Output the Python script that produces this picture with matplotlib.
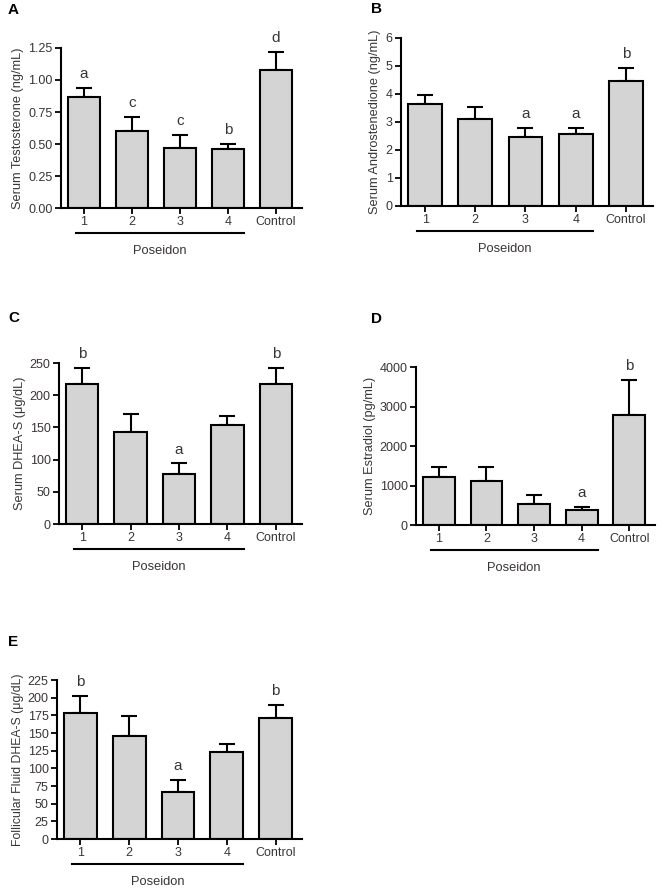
import numpy as np
import matplotlib
matplotlib.use("Agg")
import matplotlib.pyplot as plt
import matplotlib.transforms as mtransforms

groups = ["1", "2", "3", "4", "Control"]

testo_mean = [0.87, 0.60, 0.47, 0.46, 1.08]
testo_top = [0.94, 0.71, 0.57, 0.50, 1.22]
testo_letters = ["a", "c", "c", "b", "d"]

andro_mean = [3.65, 3.10, 2.47, 2.57, 4.45]
andro_top = [3.97, 3.55, 2.80, 2.80, 4.93]
andro_letters = ["", "", "a", "a", "b"]

dhea_mean = [218, 143, 77, 153, 218]
dhea_top = [242, 171, 94, 168, 242]
dhea_letters = ["b", "", "a", "", "b"]

estra_mean = [1220, 1120, 530, 390, 2780]
estra_top = [1460, 1460, 750, 460, 3660]
estra_letters = ["", "", "", "a", "b"]

ff_mean = [178, 146, 66, 123, 171]
ff_top = [202, 174, 83, 135, 189]
ff_letters = ["b", "", "a", "", "b"]

txt = "#3a3535"
plt.rcParams['font.family'] = ['Liberation Sans', 'DejaVu Sans']

fig = plt.figure(figsize=(6.65, 8.96), dpi=100)


def panel(rect, mean, top, letters, ylabel, yticks, ticklabels, tag, tagpos, ylsize=9.2):
    ax = fig.add_axes(rect)
    x = np.arange(len(groups))
    ax.bar(x, mean, width=0.67, color="#d4d4d4", edgecolor="black", linewidth=1.5, zorder=2)
    err = np.array(top) - np.array(mean)
    ax.errorbar(x, mean, yerr=[np.zeros(len(x)), err], fmt="none", ecolor="black",
                elinewidth=1.5, capsize=5.5, capthick=1.5, zorder=1)
    for i, l in enumerate(letters):
        if l:
            ax.annotate(l, (x[i], top[i]), xytext=(0, 5), textcoords="offset points",
                        ha="center", va="bottom", fontsize=11, color=txt)
    ax.set_xlim(-0.48, 4.54)
    ax.set_ylim(0, yticks[-1])
    ax.set_yticks(yticks)
    ax.set_yticklabels(ticklabels)
    ax.set_xticks(x)
    ax.set_xticklabels(groups)
    ax.spines["top"].set_visible(False)
    ax.spines["right"].set_visible(False)
    ax.spines["left"].set_linewidth(1.5)
    ax.spines["bottom"].set_linewidth(1.5)
    ax.tick_params(direction="out", length=4, width=1.3, labelsize=9, colors=txt, pad=2)
    ax.tick_params(color="black")
    ax.set_ylabel(ylabel, fontsize=ylsize, color=txt, labelpad=3)
    # Poseidon bracket under bars 1-4
    tr = mtransforms.blended_transform_factory(ax.transData, ax.transAxes)
    off = mtransforms.ScaledTranslation(0, -25 / 100, fig.dpi_scale_trans)
    ax.plot([-0.17, 3.34], [0, 0], color="black", lw=1.5, clip_on=False, transform=tr + off)
    off2 = mtransforms.ScaledTranslation(0, -43 / 100, fig.dpi_scale_trans)
    ax.text(1.58, 0, "Poseidon", ha="center", va="center", fontsize=9.3, color=txt,
            transform=tr + off2)
    fig.text(tagpos[0] / 665, 1 - tagpos[1] / 896, tag, fontsize=11, fontweight="bold",
             ha="left", va="center")
    return ax


panel([61 / 665, 1 - 208 / 896, 241 / 665, 160 / 896], testo_mean, testo_top, testo_letters,
      "Serum Testosterone (ng/mL)", [0, 0.25, 0.5, 0.75, 1.0, 1.25],
      ["0.00", "0.25", "0.50", "0.75", "1.00", "1.25"], "A", (8, 10))
panel([401 / 665, 1 - 206 / 896, 252 / 665, 168 / 896], andro_mean, andro_top, andro_letters,
      "Serum Androstenedione (ng/mL)", [0, 1, 2, 3, 4, 5, 6],
      ["0", "1", "2", "3", "4", "5", "6"], "B", (371, 9))
panel([59 / 665, 1 - 524 / 896, 243 / 665, 161 / 896], dhea_mean, dhea_top, dhea_letters,
      "Serum DHEA-S (\u03bcg/dL)", [0, 50, 100, 150, 200, 250],
      ["0", "50", "100", "150", "200", "250"], "C", (8, 318))
panel([416 / 665, 1 - 525 / 896, 239 / 665, 158 / 896], estra_mean, estra_top, estra_letters,
      "Serum Estradiol (pg/mL)", [0, 1000, 2000, 3000, 4000],
      ["0", "1000", "2000", "3000", "4000"], "D", (371, 319))
panel([57 / 665, 1 - 839 / 896, 245 / 665, 159 / 896], ff_mean, ff_top, ff_letters,
      "Follicular Fluid DHEA-S (\u03bcg/dL)", [0, 25, 50, 75, 100, 125, 150, 175, 200, 225],
      ["0", "25", "50", "75", "100", "125", "150", "175", "200", "225"], "E", (8, 642),
      ylsize=8.8)

fig.savefig("out.png", dpi=100, facecolor="white")
